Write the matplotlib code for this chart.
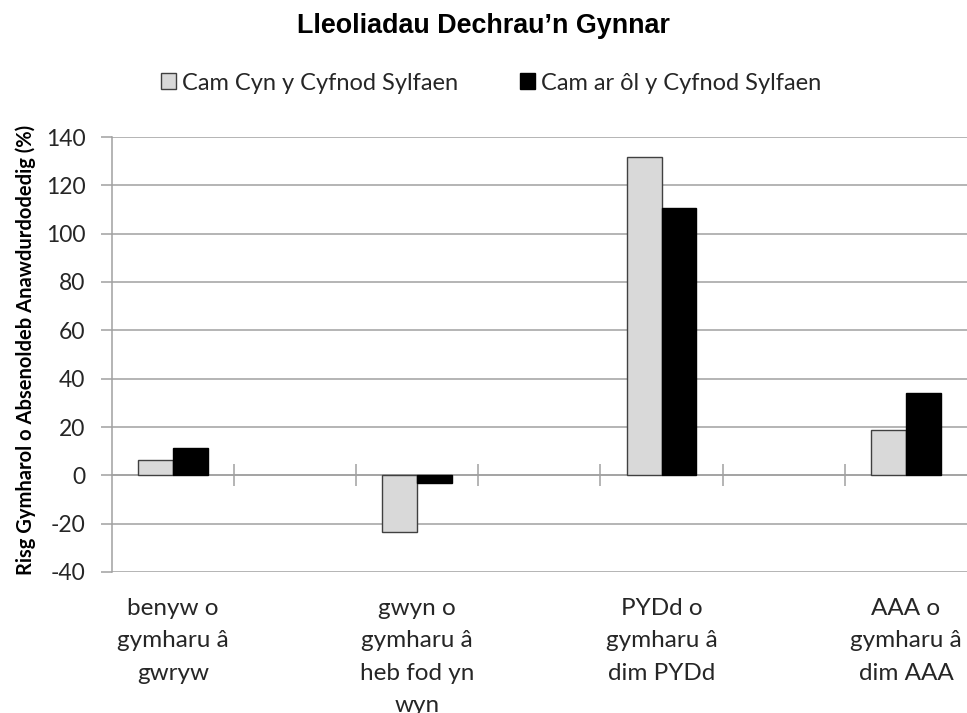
import numpy as np
import matplotlib
matplotlib.use("Agg")
import matplotlib.pyplot as plt
from matplotlib.patches import Patch

# data
categories = ["benyw o\ngymharu â\ngwryw",
              "gwyn o\ngymharu â\nheb fod yn\nwyn",
              "PYDd o\ngymharu â\ndim PYDd",
              "AAA o\ngymharu â\ndim AAA"]
before = [6.2, -23.4, 131.7, 18.9]
after = [11.2, -3.3, 110.5, 33.9]
series_names = ["Cam Cyn y Cyfnod Sylfaen", "Cam ar ôl y Cyfnod Sylfaen"]
yticks = np.arange(-40, 141, 20)

plt.rcParams['font.family'] = ['Lato', 'DejaVu Sans']
plt.rcParams['axes.unicode_minus'] = False

fig = plt.figure(figsize=(9.67, 7.13), dpi=100)
ax = fig.add_axes([111.7 / 967, 1 - 572 / 713, (967 - 111.7) / 967, 435 / 713])

# every other slot stays empty, like the original sheet
x = np.arange(len(categories)) * 2
w = 0.286
ax.bar(x - w / 2, before, w, color="#D9D9D9", edgecolor="#404040", linewidth=1, zorder=3)
ax.bar(x + w / 2, after, w, color="black", edgecolor="black", linewidth=1, zorder=3)

ax.set_xlim(-0.5, x[-1] + 0.5)
ax.set_ylim(-40, 140)
ax.set_yticks(yticks)
ax.grid(axis='y', color="#A0A0A0", linewidth=1.1, zorder=0)
ax.set_axisbelow(True)

for s in ['top', 'right']:
    ax.spines[s].set_visible(False)
ax.spines['left'].set_color("#A0A0A0")
ax.spines['left'].set_linewidth(1.1)
ax.spines['bottom'].set_position(('data', 0))
ax.spines['bottom'].set_color("#A0A0A0")
ax.spines['bottom'].set_linewidth(1.1)

ax.set_xticks(x)
ax.set_xticklabels(categories, fontsize=17.5, color="#262626", linespacing=1.68,
                   va='top')
ax.set_xticks(np.arange(0.5, x[-1], 1), minor=True)
ax.tick_params(axis='x', which='major', length=0, pad=88)
ax.tick_params(axis='x', which='minor', direction='inout', length=16, width=1.1,
               color="#A0A0A0")
ax.tick_params(axis='y', direction='out', length=8, width=1.1, color="#A0A0A0",
               labelsize=16.5, labelcolor="#262626", pad=11)

ax.set_ylabel("Risg Gymharol o Absenoldeb Anawdurdodedig (%)", fontsize=14.5,
              fontweight='bold', color="black")
ax.yaxis.set_label_coords(-0.088, 0.51)

fig.text(0.5, 1 - 26 / 713, "Lleoliadau Dechrau’n Gynnar", ha='center', va='center',
         fontsize=19.4, fontweight='bold', family='Liberation Sans')

handles = [Patch(facecolor="#D9D9D9", edgecolor="#404040", linewidth=1),
           Patch(facecolor="black", edgecolor="black")]
fig.legend(handles, series_names, loc='center', bbox_to_anchor=(0.508, 1 - 83 / 713),
           ncol=2, frameon=False, fontsize=17, handlelength=0.65, handleheight=0.65,
           handletextpad=0.25, columnspacing=2.6, labelcolor="#262626")

fig.savefig("out.png", dpi=100)
